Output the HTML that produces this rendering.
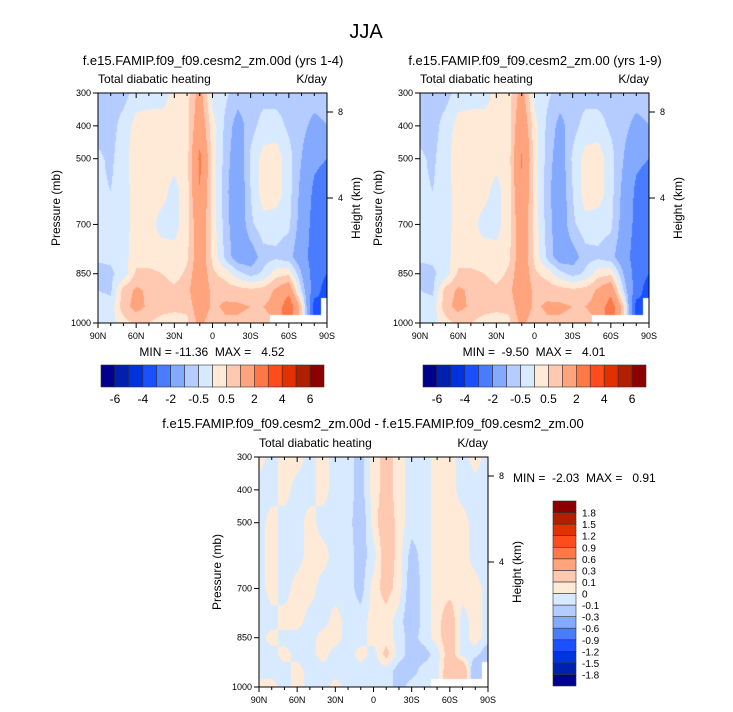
<!DOCTYPE html>
<html><head><meta charset="utf-8"><style>
body{margin:0;background:#fff;width:733px;height:712px;overflow:hidden;position:relative;font-family:"Liberation Sans",sans-serif}
canvas{position:absolute}
svg{position:absolute;left:0;top:0}
text{white-space:pre}
</style></head><body>
<canvas id="c1" style="left:98px;top:93px" width="229" height="230"></canvas>
<canvas id="c2" style="left:420px;top:93px" width="229" height="230"></canvas>
<canvas id="c3" style="left:259px;top:457px" width="229" height="230"></canvas>
<svg id="svg" width="733" height="712" font-family="Liberation Sans, sans-serif"></svg>
<script>
// ---- data ----
const lats = [90,80,70,60,50,40,30,20,10,0,-10,-20,-30,-40,-50,-60,-70,-80,-90];
const levels = [300,400,500,600,700,800,850,900,950,1000];
const xTickLabels = ["90N","60N","30N","0","30S","60S","90S"];
const yTickLabels = [300,400,500,700,850,1000];
const bounds1 = [-6,-5,-4,-3,-2,-1,-0.5,0,0.5,1,2,3,4,5,6];
const barLabels1 = ["-6","-4","-2","-0.5","0.5","2","4","6"];
const bounds3 = [-1.8,-1.5,-1.2,-0.9,-0.6,-0.3,-0.1,0,0.1,0.3,0.6,0.9,1.2,1.5,1.8];
const colors = ["#00008c","#0020b0","#0033e0","#1a50ff","#4a7cff","#84aaff","#b4ccff","#d8eaff","#ffead8","#ffc8b0","#ffa47c","#ff7848","#ff4c1c","#e23000","#b02000","#8c0000"];
const N = NaN;
const field1 = [
[-0.7,-0.7,-0.7,-0.3,-0.3,-0.3,0.2,0.3,1.3,-0.2,-0.4,-0.7,-0.7,-0.7,-0.7,-0.7,-0.7,-0.7,-0.7],
[-0.7,-0.7,-0.3,0.2,0.3,0.3,0.2,0.3,1.6,0.2,-0.6,-1.3,-0.7,-0.3,-0.3,-0.6,-0.8,-1.2,-1.0],
[-0.4,-0.6,-0.2,0.3,0.5,0.3,0.2,0.3,2.2,0.3,-0.7,-1.5,-0.4,0.2,0.3,-0.3,-1.0,-1.8,-2.0],
[-0.4,-0.5,-0.2,0.2,0.3,0.2,-0.2,0.3,2.0,0.3,-0.8,-1.6,-0.5,0.3,0.3,-0.3,-1.2,-2.2,-2.5],
[-0.4,-0.5,-0.2,0.2,0.2,-0.2,-0.2,0.3,1.6,0.3,-0.7,-1.6,-0.6,-0.2,-0.3,-0.4,-1.3,-2.4,-2.6],
[-0.4,-0.4,-0.2,0.3,0.3,0.3,0.2,0.4,1.5,0.4,-0.6,-1.4,-1.4,-0.7,-0.6,-0.8,-1.5,-2.5,-2.8],
[-0.7,-0.6,-0.3,0.6,0.6,0.5,0.3,0.6,1.6,0.6,0.3,-0.3,-0.7,-0.4,0.3,0.4,-1.0,-2.5,-3.0],
[-0.5,-0.6,0.7,1.1,0.9,0.8,0.6,0.8,1.7,0.8,0.8,0.7,0.6,0.7,1.1,1.6,-0.5,-2.5,-3.5],
[-0.3,-0.3,0.8,1.2,0.9,0.7,0.6,0.6,1.5,0.9,1.1,1.1,1.0,1.0,1.2,2.8,0.6,-3.5,N],
[-0.3,-0.2,0.3,0.6,0.5,0.3,0.3,0.4,1.2,0.6,0.9,0.9,0.8,0.8,N,N,N,N,N]];
const field2 = [
[-0.7,-0.7,-0.7,-0.3,-0.3,-0.3,0.2,0.3,1.3,-0.2,-0.4,-0.7,-0.7,-0.7,-0.7,-0.7,-0.7,-0.7,-0.7],
[-0.7,-0.7,-0.3,0.2,0.3,0.3,0.2,0.3,1.7,0.2,-0.6,-1.2,-0.7,-0.3,-0.3,-0.6,-0.8,-1.2,-1.0],
[-0.4,-0.6,-0.2,0.3,0.5,0.3,0.2,0.3,2.1,0.3,-0.7,-1.4,-0.4,0.2,0.3,-0.3,-1.0,-1.8,-2.0],
[-0.4,-0.5,-0.2,0.2,0.3,0.2,-0.2,0.3,1.9,0.3,-0.8,-1.5,-0.5,0.3,0.3,-0.3,-1.2,-2.2,-2.5],
[-0.4,-0.5,-0.2,0.2,0.2,-0.2,-0.2,0.3,1.6,0.3,-0.7,-1.5,-0.6,-0.2,-0.3,-0.4,-1.3,-2.3,-2.6],
[-0.4,-0.4,-0.2,0.3,0.3,0.3,0.2,0.4,1.5,0.4,-0.6,-1.4,-1.3,-0.7,-0.6,-0.8,-1.5,-2.5,-2.8],
[-0.7,-0.6,-0.3,0.6,0.6,0.5,0.3,0.6,1.6,0.6,0.3,-0.3,-0.7,-0.4,0.3,0.4,-1.0,-2.5,-3.0],
[-0.5,-0.6,0.7,1.1,0.9,0.8,0.6,0.8,1.7,0.8,0.8,0.7,0.6,0.7,1.1,1.6,-0.5,-2.5,-3.5],
[-0.3,-0.3,0.8,1.2,0.9,0.7,0.6,0.6,1.5,0.9,1.1,1.1,1.0,1.0,1.2,2.6,0.6,-3.4,N],
[-0.3,-0.2,0.3,0.6,0.5,0.3,0.3,0.4,1.2,0.6,0.9,0.9,0.8,0.8,N,N,N,N,N]];
const field3 = [
[0.05,-0.05,0.05,0.05,-0.05,0.05,-0.05,-0.05,-0.15,0.05,0.15,0.05,-0.05,-0.05,0.05,0.05,-0.05,0.05,-0.05],
[-0.05,-0.05,0.05,-0.05,-0.05,0.05,-0.05,-0.05,-0.15,0.05,0.15,0.05,-0.05,-0.05,0.05,0.05,-0.05,-0.05,-0.05],
[-0.05,0.05,-0.05,-0.05,0.05,-0.05,-0.05,-0.05,-0.2,0.05,0.2,0.05,-0.05,-0.05,0.05,0.05,0.05,-0.05,-0.05],
[-0.05,0.05,-0.05,-0.05,0.05,0.05,-0.05,-0.05,-0.15,-0.05,0.2,0.05,-0.15,-0.05,0.05,0.05,0.05,-0.05,-0.05],
[-0.05,0.05,-0.05,0.05,0.05,-0.05,-0.05,-0.05,-0.15,0.05,0.15,0.05,-0.2,-0.05,0.05,0.05,0.05,0.05,-0.05],
[-0.05,-0.05,0.05,0.05,-0.05,-0.05,0.05,-0.05,-0.05,0.05,0.05,-0.05,-0.2,-0.05,0.05,0.2,-0.05,0.05,-0.05],
[-0.05,0.05,-0.05,-0.05,-0.05,0.05,0.05,-0.05,-0.05,0.05,0.05,-0.05,-0.15,-0.05,0.05,0.2,-0.05,0.05,-0.05],
[-0.05,-0.05,0.05,-0.05,-0.05,0.05,-0.05,-0.05,0.05,-0.05,0.15,-0.05,-0.15,-0.15,-0.05,0.2,-0.05,-0.05,-0.2],
[-0.05,-0.05,-0.05,0.05,-0.05,-0.05,-0.05,-0.05,-0.05,-0.05,-0.05,-0.15,-0.15,-0.05,-0.05,0.25,0.3,-0.3,N],
[0.05,0.05,-0.05,0.05,-0.05,-0.05,0.05,-0.05,-0.05,-0.05,-0.05,-0.15,-0.05,-0.05,N,N,N,N,N]];

// ---- rendering ----
function colorFor(v,b){let i=0;while(i<b.length&&v>=b[i])i++;return colors[i];}
function sample(f,lat,p){
  const li=(90-lat)/10; let pi=0;
  while(pi<levels.length-2&&p>levels[pi+1])pi++;
  const t=(p-levels[pi])/(levels[pi+1]-levels[pi]);
  const i0=Math.min(Math.floor(li),lats.length-2), s=li-i0;
  const ni=Math.round(li), np=t<0.5?pi:pi+1;
  if(isNaN(f[np][ni]))return NaN;
  const pts=[[f[pi][i0],(1-s)*(1-t)],[f[pi][i0+1],s*(1-t)],[f[pi+1][i0],(1-s)*t],[f[pi+1][i0+1],s*t]];
  let sw=0,sv=0;pts.forEach(([v,w])=>{if(!isNaN(v)){sv+=v*w;sw+=w;}});
  return sw>0?sv/sw:NaN;
}
function drawField(id,f,b){
  const cv=document.getElementById(id),ctx=cv.getContext('2d');
  const W=cv.width,H=cv.height;
  for(let y=0;y<H;y++)for(let x=0;x<W;x++){
    const lat=90-180*(x+0.5)/W, p=300+700*(y+0.5)/H;
    const v=sample(f,lat,p);
    if(isNaN(v))continue;
    ctx.fillStyle=colorFor(v,b);ctx.fillRect(x,y,1,1);
  }
}
drawField('c1',field1,bounds1);drawField('c2',field2,bounds1);drawField('c3',field3,bounds3);

const svg=document.getElementById('svg');const NS='http://www.w3.org/2000/svg';
function el(tag,attrs,parent,text){const e=document.createElementNS(NS,tag);for(const k in attrs)e.setAttribute(k,attrs[k]);if(text!==undefined)e.textContent=text;(parent||svg).appendChild(e);return e;}
function txt(x,y,s,size,anchor,name,extra){const e=el('text',Object.assign({x:x,y:y,'font-size':size,'text-anchor':anchor||'middle',fill:'#000'},extra||{}),svg,s);


return e;}

function panel(x0,y0,name,heightTicksY){
  const W=229,H=230;
  const g=el('g',{});
  
  
  const xs=lat=>x0+(90-lat)/180*W, ys=p=>y0+(p-300)/700*H;
  el('rect',{x:x0,y:y0,width:W,height:H,fill:'none',stroke:'#000','stroke-width':1},g);
  for(let lat=90;lat>=-90;lat-=10){const x=xs(lat),L=(lat%30===0)?5:3;
    el('line',{x1:x,y1:y0,x2:x,y2:y0+L,stroke:'#000'},g);el('line',{x1:x,y1:y0+H,x2:x,y2:y0+H+L,stroke:'#000'},g);}
  xTickLabels.forEach((s,i)=>{txt(xs(90-30*i),y0+H+16,s,9,'middle','x-tick-label');});
  yTickLabels.forEach(p=>{const y=ys(p);el('line',{x1:x0-5,y1:y,x2:x0,y2:y,stroke:'#000'},g);txt(x0-7,y+3,String(p),9,'end','y-tick-label');});
  heightTicksY.forEach(([lab,y])=>{el('line',{x1:x0+W,y1:y,x2:x0+W+6,y2:y,stroke:'#000'},g);txt(x0+W+11,y+3,lab,9,'start','height-tick-label');});
  txt(x0,y0-10,'Total diabatic heating',12,'start','panel-left-label');
  txt(x0+W,y0-10,'K/day',12,'end','units-label');
  txt(x0-38,y0+H/2,'Pressure (mb)',12,'middle','y-axis-title',{transform:`rotate(-90 ${x0-38} ${y0+H/2})`});
  txt(x0+W+33,y0+H/2,'Height (km)',12,'middle','height-axis-title',{transform:`rotate(-90 ${x0+W+33} ${y0+H/2})`});
}
txt(366,38,'JJA',20,'middle','figure-title');
txt(213,65,'f.e15.FAMIP.f09_f09.cesm2_zm.00d (yrs 1-4)',13,'middle','panel-1-title');
txt(535,65,'f.e15.FAMIP.f09_f09.cesm2_zm.00 (yrs 1-9)',13,'middle','panel-2-title');
txt(373,428,'f.e15.FAMIP.f09_f09.cesm2_zm.00d - f.e15.FAMIP.f09_f09.cesm2_zm.00',13,'middle','diff-title');
panel(98,93,'panel-1',[['8',112],['4',198]]);
panel(420,93,'panel-2',[['8',112],['4',198]]);
panel(259,457,'panel-diff',[['8',476],['4',562]]);
txt(212,356,'MIN = -11.36  MAX =   4.52',12,'middle','panel-1-minmax');
txt(534,356,'MIN =  -9.50  MAX =   4.01',12,'middle','panel-2-minmax');
txt(513,482,'MIN =  -2.03  MAX =   0.91',12,'start','diff-minmax');

function hbar(x0,name){
  const w=223/16;
  colors.forEach((c,i)=>{const r=el('rect',{x:x0+i*w,y:365,width:w,height:22,fill:c,stroke:'#333','stroke-width':0.6});
  
  });
  barLabels1.forEach(s=>{const i=bounds1.indexOf(parseFloat(s))+1;txt(x0+i*w,403,s,12,'middle',name+'-label');});
}
hbar(101,'colorbar-1');hbar(423,'colorbar-2');
const h3=185/16;
colors.forEach((c,i)=>{const r=el('rect',{x:553,y:501+(15-i)*h3,width:23,height:h3,fill:c,stroke:'#333','stroke-width':0.6});

});
bounds3.forEach((v,i)=>{txt(582,501+(15-i)*h3+4,String(v),10,'start','colorbar-diff-label');});
</script>
</body></html>
